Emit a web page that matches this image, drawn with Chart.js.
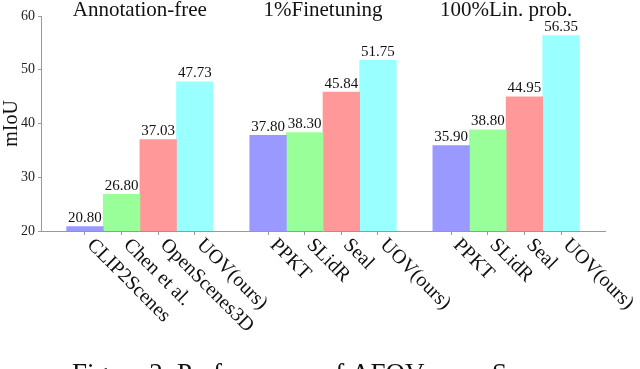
<!DOCTYPE html>
<html>
<head>
<meta charset="utf-8">
<script src="https://cdn.jsdelivr.net/npm/chart.js@4"></script>
<style>
  html, body { margin: 0; padding: 0; background: #fff; overflow: hidden; }
</style>
</head>
<body>
<canvas id="chart" width="640" height="369"></canvas>
<script>
'use strict';

/* global Chart */

// groups of the figure and the methods inside each group
const groupTitles = ['Annotation-free', '1%Finetuning', '100%Lin. prob.'];
const methodNames = [
  ['CLIP2Scenes', 'Chen et al.', 'OpenScenes3D', 'UOV(ours)'],
  ['PPKT', 'SLidR', 'Seal', 'UOV(ours)'],
  ['PPKT', 'SLidR', 'Seal', 'UOV(ours)']
];

// mIoU per group
const annotationFree = [20.80, 26.80, 37.03, 47.73];
const finetune1 = [37.80, 38.30, 45.84, 51.75];
const linProbe100 = [35.90, 38.80, 44.95, 56.35];
const groupValues = [annotationFree, finetune1, linProbe100];

const yTicks = [20, 30, 40, 50, 60];
const caption = 'Figure 2: Performance of AFOV on nuScenes';

const COLORS = ['#9999ff', '#99ff99', '#ff9999', '#99ffff'];
const FONT = '"Liberation Serif"';
const SLOTS = 5; // 4 bars + one empty slot between groups

// one dataset per bar colour, three bars each
const datasets = COLORS.map((color, k) => ({
  label: 'bar ' + (k + 1),
  data: groupValues.map((vals, g) => ({ x: g * SLOTS + k, y: vals[k] })),
  backgroundColor: color,
  borderWidth: 0,
  grouped: false,
  barPercentage: 1,
  categoryPercentage: 1
}));

const tickPositions = [];
groupValues.forEach((vals, g) => vals.forEach((v, k) => tickPositions.push(g * SLOTS + k)));

const textPlugin = {
  id: 'figureText',
  afterDraw(chart) {
    const ctx = chart.ctx;
    const area = chart.chartArea;
    const metas = chart.data.datasets.map((d, i) => chart.getDatasetMeta(i));
    ctx.save();
    ctx.fillStyle = '#111';

    // values on top of bars
    ctx.font = '15px ' + FONT;
    ctx.textAlign = 'center';
    ctx.textBaseline = 'bottom';
    metas.forEach((meta, k) => {
      meta.data.forEach((bar, g) => {
        ctx.fillText(groupValues[g][k].toFixed(2), bar.x, bar.y - 1);
      });
    });

    // method names, slanted down to the right
    ctx.font = '20px ' + FONT;
    ctx.textAlign = 'left';
    ctx.textBaseline = 'middle';
    metas.forEach((meta, k) => {
      meta.data.forEach((bar, g) => {
        ctx.save();
        ctx.translate(bar.x + 5, area.bottom + 11);
        ctx.rotate(Math.PI / 4);
        ctx.fillText(methodNames[g][k], 0, 0);
        ctx.restore();
      });
    });

    // group titles
    ctx.font = '21px ' + FONT;
    ctx.textAlign = 'center';
    ctx.textBaseline = 'alphabetic';
    groupTitles.forEach((title, g) => {
      const first = metas[0].data[g].x;
      const last = metas[metas.length - 1].data[g].x;
      ctx.fillText(title, (first + last) / 2, 16);
    });

    // caption, cut by the bottom edge
    ctx.font = '27px ' + FONT;
    ctx.textAlign = 'left';
    ctx.fillText(caption, 72, 382);
    ctx.restore();
  }
};

function draw() {
  new Chart(document.getElementById('chart'), {
    type: 'bar',
    data: { datasets: datasets },
    plugins: [textPlugin],
    options: {
      responsive: false,
      animation: false,
      layout: { padding: { top: 16, right: 35, bottom: 128, left: 0 } },
      plugins: {
        legend: { display: false },
        tooltip: { enabled: false }
      },
      scales: {
        x: {
          type: 'linear',
          offset: false,
          min: -1.2,
          max: 14.2,
          afterBuildTicks: (scale) => { scale.ticks = tickPositions.map(v => ({ value: v })); },
          afterFit: (scale) => { scale.height = 10; },
          ticks: { display: false },
          grid: { offset: false, drawOnChartArea: false, tickLength: 4, color: '#999' },
          border: { color: '#999' }
        },
        y: {
          min: yTicks[0],
          max: yTicks[yTicks.length - 1],
          afterBuildTicks: (scale) => { scale.ticks = yTicks.map(v => ({ value: v })); },
          afterFit: (scale) => { scale.width = 41; },
          ticks: { color: '#222', padding: 3, font: { family: FONT, size: 14 } },
          grid: { drawOnChartArea: false, tickLength: 3, color: '#999' },
          border: { color: '#999' },
          title: {
            display: true,
            text: 'mIoU',
            color: '#111',
            padding: 0,
            font: { family: FONT, size: 20 }
          }
        }
      }
    }
  });
}

// make sure the serif face is ready before the canvas text is drawn
Promise.all([14, 15, 20, 21, 27].map(s => document.fonts.load(s + 'px ' + FONT)))
  .then(draw, draw);
</script>
</body>
</html>
